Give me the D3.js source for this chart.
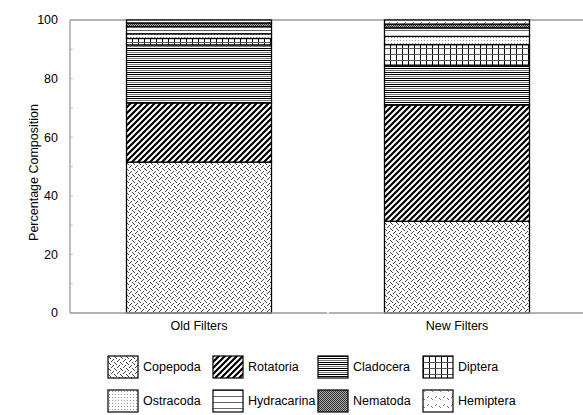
<!DOCTYPE html>
<html>
<head>
<meta charset="utf-8">
<script src="https://cdn.jsdelivr.net/npm/d3@7"></script>
<style>
  body { margin: 0; background: #fff; }
  svg text { font-family: "Liberation Sans", Arial, sans-serif; fill: #000; }
</style>
</head>
<body>
<div id="chart"></div>
<script>
// categories and series (percent composition, bottom to top)
const categories = ["Old Filters", "New Filters"];
const taxa = ["Copepoda", "Rotatoria", "Cladocera", "Diptera", "Ostracoda", "Hydracarina", "Nematoda", "Hemiptera"];
const copepoda = [51.5, 31.3];
const rotatoria = [20.2, 39.7];
const cladocera = [19.8, 13.6];
const diptera = [2.2, 7.0];
const ostracoda = [1.6, 2.8];
const hydracarina = [2.4, 2.9];
const nematoda = [1.3, 1.3];
const hemiptera = [1.0, 1.4];
const yTicks = [0, 20, 40, 60, 80, 100];

const series = [copepoda, rotatoria, cladocera, diptera, ostracoda, hydracarina, nematoda, hemiptera];

const width = 583, height = 415;
const margin = { top: 20, left: 70, bottom: 102 };
const plotRight = 586;

const svg = d3.select("#chart").append("svg")
  .attr("width", width)
  .attr("height", height);

// fill patterns, one per taxon
const defs = svg.append("defs");
function pattern(id, w, h, draw) {
  const p = defs.append("pattern")
    .attr("id", id)
    .attr("patternUnits", "userSpaceOnUse")
    .attr("width", w)
    .attr("height", h);
  p.append("rect").attr("width", w).attr("height", h).attr("fill", "#fff");
  draw(p);
}
function pixels(p, pts, color) {
  p.selectAll(null)
    .data(pts)
    .enter()
    .append("rect")
      .attr("x", d => d[0]).attr("y", d => d[1])
      .attr("width", 1).attr("height", 1)
      .attr("fill", color);
}
// Copepoda: dashed weave
pattern("p0", 6, 6, p => pixels(p, [[0, 0], [1, 1], [2, 2], [3, 5], [4, 4], [5, 3]], "#444"));
// Rotatoria: wide diagonal stripes
pattern("p1", 6, 6, p => {
  p.append("path").attr("d", "M-1,1l2,-2M0,6l6,-6M5,7l2,-2")
    .attr("stroke", "#000").attr("stroke-width", 2.2);
});
// Cladocera: dense horizontal lines
pattern("p2", 6, 6, p => {
  p.append("rect").attr("y", 0).attr("width", 6).attr("height", 1).attr("fill", "#000");
  p.append("rect").attr("y", 2).attr("width", 6).attr("height", 1).attr("fill", "#000");
  p.append("rect").attr("y", 4).attr("width", 6).attr("height", 1).attr("fill", "#777");
});
// Diptera: grid
pattern("p3", 6, 6, p => {
  p.append("rect").attr("x", 0).attr("width", 1).attr("height", 6).attr("fill", "#000");
  p.append("rect").attr("y", 0).attr("width", 6).attr("height", 1).attr("fill", "#555");
});
// Ostracoda: fine light dots
pattern("p4", 3, 3, p => pixels(p, [[1, 1]], "#999"));
// Hydracarina: spaced horizontal lines
pattern("p5", 6, 6, p => {
  p.append("rect").attr("y", 0).attr("width", 6).attr("height", 1).attr("fill", "#666");
});
// Nematoda: dark dots
pattern("p6", 2, 2, p => {
  p.append("rect").attr("width", 2).attr("height", 2).attr("fill", "#aaa");
  pixels(p, [[0, 0], [1, 1]], "#333");
});
// Hemiptera: lighter weave
pattern("p7", 8, 8, p => pixels(p, [[0, 0], [1, 1], [4, 7], [5, 6]], "#777"));

const x = d3.scaleBand()
  .domain(categories)
  .range([margin.left, plotRight])
  .padding(0);
const barWidth = x.bandwidth() * 0.562;

const y = d3.scaleLinear()
  .domain([0, 100])
  .range([height - margin.bottom, margin.top]);
const y0 = y(0);

// plot frame (gray)
svg.append("line")
  .attr("x1", margin.left).attr("x2", width)
  .attr("y1", y(100)).attr("y2", y(100))
  .attr("stroke", "#999").attr("stroke-width", 1.3);

// y axis with inward ticks
svg.append("line")
  .attr("x1", margin.left).attr("x2", margin.left)
  .attr("y1", y(100)).attr("y2", y0)
  .attr("stroke", "#999").attr("stroke-width", 1.3);
svg.append("g")
  .selectAll("line")
  .data(d3.range(0, 101, 10))
  .enter()
  .append("line")
    .attr("x1", margin.left).attr("x2", margin.left + 3)
    .attr("y1", d => y(d)).attr("y2", d => y(d))
    .attr("stroke", "#bbb");
svg.append("g")
  .selectAll("text")
  .data(yTicks)
  .enter()
  .append("text")
    .attr("x", margin.left - 12)
    .attr("y", d => y(d))
    .attr("dy", "0.35em")
    .attr("text-anchor", "end")
    .attr("font-size", 12.5)
    .text(d => d);

svg.append("text")
  .attr("transform", `translate(38,${y(50) + 6}) rotate(-90)`)
  .attr("text-anchor", "middle")
  .attr("font-size", 12.5)
  .text("Percentage Composition");

// stacked bars
const stacks = categories.map((c, i) => {
  let acc = 0;
  return series.map((s, k) => {
    const seg = { cat: c, k, y0: acc, y1: acc + s[i] };
    acc += s[i];
    return seg;
  });
}).flat();

svg.append("g")
  .selectAll("rect")
  .data(stacks)
  .enter()
  .append("rect")
    .attr("x", d => x(d.cat) + (x.bandwidth() - barWidth) / 2)
    .attr("y", d => y(d.y1))
    .attr("width", barWidth)
    .attr("height", d => y(d.y0) - y(d.y1))
    .attr("fill", d => `url(#p${d.k})`)
    .attr("stroke", "#000")
    .attr("stroke-width", 1.3);

// x axis
svg.append("line")
  .attr("x1", margin.left).attr("x2", width)
  .attr("y1", y0).attr("y2", y0)
  .attr("stroke", "#999").attr("stroke-width", 1.3);
svg.append("g")
  .selectAll("line")
  .data(categories.slice(1))
  .enter()
  .append("line")
    .attr("x1", d => x(d)).attr("x2", d => x(d))
    .attr("y1", y0 - 1).attr("y2", y0 + 1)
    .attr("stroke", "#fff").attr("stroke-width", 1.5);
svg.append("g")
  .selectAll("text")
  .data(categories)
  .enter()
  .append("text")
    .attr("x", d => x(d) + x.bandwidth() / 2)
    .attr("y", y0 + 17)
    .attr("text-anchor", "middle")
    .attr("font-size", 12.5)
    .text(d => d);

// legend, 2 rows x 4 columns
const legend = svg.append("g")
  .selectAll("g")
  .data(taxa)
  .enter()
  .append("g")
    .attr("transform", (d, i) => `translate(${108 + (i % 4) * 105},${356 + Math.floor(i / 4) * 34})`);
legend.append("rect")
  .attr("width", 30)
  .attr("height", 22)
  .attr("fill", (d, i) => `url(#p${i})`)
  .attr("stroke", "#000")
  .attr("stroke-width", 1.2);
legend.append("text")
  .attr("x", 35)
  .attr("y", 11)
  .attr("dy", "0.35em")
  .attr("font-size", 12.5)
  .text(d => d);
</script>
</body>
</html>
